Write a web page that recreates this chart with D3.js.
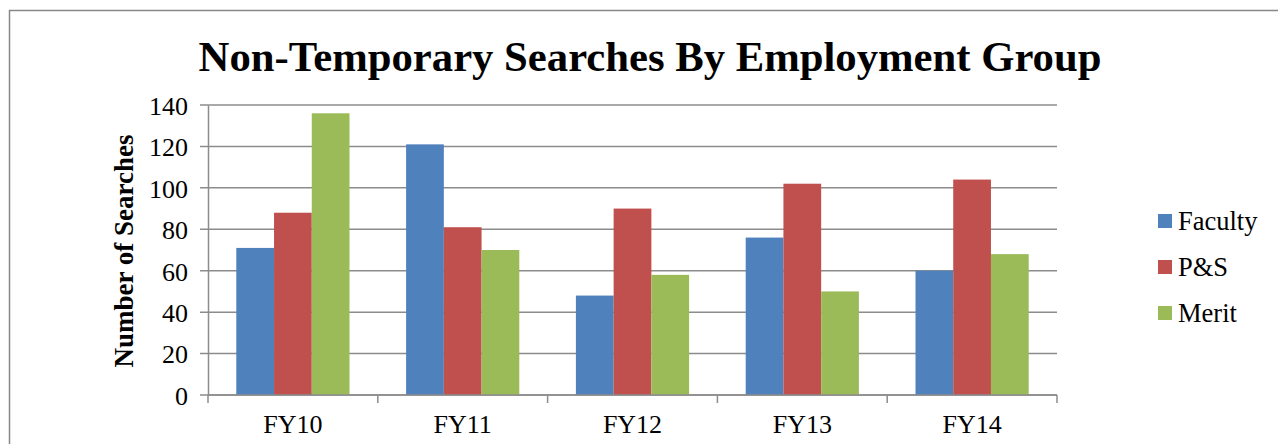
<!DOCTYPE html>
<html>
<head>
<meta charset="utf-8">
<script src="https://cdn.jsdelivr.net/npm/d3@7"></script>
<style>
  body { margin: 0; background: #fff; }
  svg text { font-family: "Liberation Serif", "Times New Roman", serif; }
</style>
</head>
<body>
<svg id="drawing_region"></svg>
<script>
// chart data
const categories = ["FY10", "FY11", "FY12", "FY13", "FY14"];
const seriesNames = ["Faculty", "P&S", "Merit"];
const faculty = [71, 121, 48, 76, 60];
const ps = [88, 81, 90, 102, 104];
const merit = [136, 70, 58, 50, 68];
const yTicks = [0, 20, 40, 60, 80, 100, 120, 140];

const colors = ["#4F81BD", "#C0504D", "#9BBB59"];
const seriesValues = [faculty, ps, merit];

const width = 1278, height = 444;
const plot = {left: 208, right: 1057, top: 105, bottom: 395};

const svg = d3.select("#drawing_region")
    .attr("width", width)
    .attr("height", height);

// outer chart border
svg.append("rect")
    .attr("x", 9.5).attr("y", 10.5)
    .attr("width", 1300).attr("height", 500)
    .attr("fill", "none")
    .attr("stroke", "#888")
    .attr("stroke-width", 1.5);

svg.append("text")
    .attr("x", 650)
    .attr("y", 71)
    .attr("text-anchor", "middle")
    .attr("font-weight", "bold")
    .attr("font-size", 42.7)
    .text("Non-Temporary Searches By Employment Group");

const xscale = d3.scaleBand()
    .domain(categories)
    .range([plot.left, plot.right])
    .padding(0);

const bw = xscale.bandwidth();
const xinner = d3.scaleBand()
    .domain(seriesNames)
    .range([bw / 6, bw * 5 / 6]);

const yscale = d3.scaleLinear()
    .domain([0, 140])
    .range([plot.bottom, plot.top]);

// gridlines
svg.append("g")
    .selectAll("line")
    .data(yTicks)
    .join("line")
    .attr("x1", plot.left - 8)
    .attr("x2", plot.right)
    .attr("y1", d => yscale(d))
    .attr("y2", d => yscale(d))
    .attr("stroke", "#8c8c8c")
    .attr("stroke-width", 1.5);

// bars
const rows = categories.map((c, i) => ({cat: c, vals: seriesNames.map((s, j) => ({s: s, v: seriesValues[j][i], j: j}))}));

svg.append("g")
    .selectAll("g")
    .data(rows)
    .join("g")
    .attr("transform", d => `translate(${xscale(d.cat)},0)`)
    .selectAll("rect")
    .data(d => d.vals)
    .join("rect")
    .attr("x", d => xinner(d.s))
    .attr("width", xinner.bandwidth())
    .attr("y", d => yscale(d.v))
    .attr("height", d => yscale(0) - yscale(d.v))
    .attr("fill", d => colors[d.j]);

// y axis
const yaxis = d3.axisLeft(yscale).tickValues(yTicks).tickSize(0).tickPadding(20);
const yg = svg.append("g")
    .attr("transform", `translate(${plot.left},0)`)
    .call(yaxis)
    .attr("font-family", null)
    .attr("font-size", null);
yg.select(".domain").attr("stroke", "#8c8c8c").attr("stroke-width", 1.5);
yg.selectAll("text")
    .style("font-size", "26px")
    .attr("fill", "#000")
    .attr("dy", "0.36em");

// x axis
const xaxis = d3.axisBottom(xscale).tickSize(0).tickPadding(20);
const xg = svg.append("g")
    .attr("transform", `translate(0,${plot.bottom})`)
    .call(xaxis)
    .attr("font-family", null)
    .attr("font-size", null);
xg.select(".domain").remove();
xg.selectAll("text")
    .style("font-size", "26px")
    .attr("fill", "#000");
xg.append("line")
    .attr("x1", plot.left).attr("x2", plot.right)
    .attr("stroke", "#8c8c8c").attr("stroke-width", 1.5);
xg.selectAll(".sep")
    .data(categories.concat(["end"]))
    .join("line")
    .attr("class", "sep")
    .attr("x1", (d, i) => i < categories.length ? xscale(d) : plot.right)
    .attr("x2", (d, i) => i < categories.length ? xscale(d) : plot.right)
    .attr("y1", 0).attr("y2", 8)
    .attr("stroke", "#8c8c8c").attr("stroke-width", 1.5);

// y axis title
svg.append("text")
    .attr("transform", `translate(133,${(plot.top + plot.bottom) / 2 + 1}) rotate(-90)`)
    .attr("text-anchor", "middle")
    .attr("font-weight", "bold")
    .style("font-size", "27px")
    .text("Number of Searches");

// legend
const legend = svg.append("g")
    .selectAll("g")
    .data(seriesNames)
    .join("g")
    .attr("transform", (d, i) => `translate(1158,${221 + i * 46})`);
legend.append("rect")
    .attr("x", 0).attr("y", -7)
    .attr("width", 14).attr("height", 14)
    .attr("fill", (d, i) => colors[i]);
legend.append("text")
    .attr("x", 20)
    .attr("y", 9)
    .style("font-size", "26.5px")
    .text(d => d);
</script>
</body>
</html>
